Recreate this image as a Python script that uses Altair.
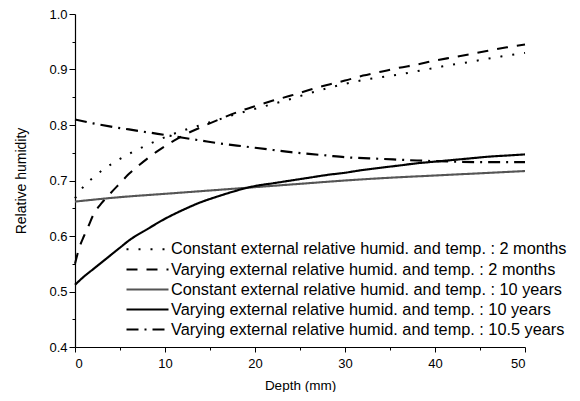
import altair as alt
import pandas as pd

labels = [
    "Constant external relative humid. and temp. : 2 months",
    "Varying external relative humid. and temp. : 2 months",
    "Constant external relative humid. and temp. : 10 years",
    "Varying external relative humid. and temp. : 10 years",
    "Varying external relative humid. and temp. : 10.5 years",
]

c2m_x = [0, 1, 2, 3, 4, 5, 6, 7, 8, 9, 10, 12, 14, 16, 18, 20, 22, 24, 26, 28, 30, 32, 34, 36, 38, 40, 42, 44, 46, 48, 50]
c2m_y = [0.668, 0.69, 0.705, 0.718, 0.729, 0.739, 0.748, 0.756, 0.764, 0.771, 0.778, 0.79, 0.80, 0.81, 0.82, 0.829,
         0.838, 0.847, 0.857, 0.866, 0.874, 0.881, 0.886, 0.891, 0.897, 0.903, 0.909, 0.914, 0.92, 0.925, 0.93]

v2m_x = [0, 0.5, 1, 1.5, 2, 3, 4, 5, 6, 7, 8, 9, 10, 11, 12, 14, 16, 18, 20, 22, 24, 26, 28, 30, 32, 34, 36, 38, 40, 42, 44, 46, 48, 50]
v2m_y = [0.55, 0.58, 0.60, 0.618, 0.637, 0.66, 0.678, 0.695, 0.712, 0.726, 0.739, 0.751, 0.762, 0.772, 0.781, 0.796,
         0.81, 0.823, 0.834, 0.844, 0.853, 0.863, 0.872, 0.88, 0.889, 0.896, 0.903, 0.909, 0.916, 0.922, 0.928, 0.934, 0.94, 0.945]

c10_x = [0, 5, 10, 15, 20, 25, 30, 35, 40, 45, 50]
c10_y = [0.662, 0.670, 0.676, 0.682, 0.688, 0.694, 0.700, 0.705, 0.709, 0.713, 0.717]

v10_x = [0, 1, 2, 3, 4, 5, 6, 8, 10, 12, 14, 16, 18, 20, 22, 24, 26, 28, 30, 32, 34, 36, 38, 40, 42, 44, 46, 48, 50]
v10_y = [0.512, 0.527, 0.540, 0.553, 0.566, 0.579, 0.592, 0.612, 0.631, 0.647, 0.661, 0.672, 0.682, 0.690, 0.695,
         0.700, 0.705, 0.710, 0.714, 0.719, 0.723, 0.727, 0.731, 0.734, 0.737, 0.740, 0.743, 0.745, 0.747]

v105_x = [0, 2, 4, 6, 8, 10, 12, 14, 16, 18, 20, 22, 24, 26, 28, 30, 34, 38, 42, 46, 50]
v105_y = [0.81, 0.803, 0.797, 0.792, 0.787, 0.782, 0.777, 0.772, 0.767, 0.763, 0.759, 0.755, 0.751, 0.748, 0.745,
          0.742, 0.739, 0.736, 0.734, 0.733, 0.733]

rows = []
for lab, xs, ys in zip(labels, [c2m_x, v2m_x, c10_x, v10_x, v105_x], [c2m_y, v2m_y, c10_y, v10_y, v105_y]):
    for x, y in zip(xs, ys):
        rows.append({"series": lab, "depth": x, "rh": y})
df = pd.DataFrame(rows)

x_ticks = [0, 5, 10, 15, 20, 25, 30, 35, 40, 45, 50]
y_ticks = [0.4, 0.45, 0.5, 0.55, 0.6, 0.65, 0.7, 0.75, 0.8, 0.85, 0.9, 0.95, 1.0]

FONT = "Liberation Sans"

chart = alt.Chart(df).mark_line(interpolate="monotone").encode(
    x=alt.X("depth:Q", title="Depth (mm)",
            scale=alt.Scale(domain=[0, 50], nice=False, zero=False),
            axis=alt.Axis(values=x_ticks,
                          labelExpr="datum.value % 10 == 0 ? datum.label : ''",
                          tickSize={"condition": {"test": "datum.value % 10 == 0", "value": 5}, "value": 3},
                          labelPadding=5, titlePadding=8, titleFontSize=13.5)),
    y=alt.Y("rh:Q", title="Relative humidity",
            scale=alt.Scale(domain=[0.4, 1.0], nice=False, zero=False),
            axis=alt.Axis(values=y_ticks, format=".1f",
                          labelExpr="round(datum.value*100) % 10 == 0 ? datum.label : ''",
                          tickSize={"condition": {"test": "round(datum.value*100) % 10 == 0", "value": 6}, "value": 3},
                          labelPadding=2, titlePadding=20, titleFontSize=14)),
    detail="series:N",
    strokeDash=alt.StrokeDash("series:N", sort=labels, title=None,
                              scale=alt.Scale(domain=labels,
                                              range=[[2, 10], [11, 9], [1, 0], [1, 0], [12, 6, 2, 6]])),
    strokeWidth=alt.StrokeWidth("series:N", sort=labels, title=None,
                                scale=alt.Scale(domain=labels, range=[2.0, 2.2, 0.6, 2.6, 1.9])),
    color=alt.Color("series:N", sort=labels, title=None,
                    scale=alt.Scale(domain=labels, range=["#000000", "#000000", "#555555", "#000000", "#000000"])),
).properties(
    width=450, height=333,
    autosize=alt.AutoSizeParams(type="none"),
    padding={"left": 67, "top": 6, "right": 47, "bottom": 45},
).configure_view(stroke=None).configure_axis(
    grid=False, domainColor="black", tickColor="black", labelColor="black", titleColor="black",
    labelFont=FONT, titleFont=FONT, labelFontSize=13, titleFontWeight="normal",
    domainWidth=1.2, tickWidth=1,
).configure_legend(
    orient="none", legendX=64, legendY=227, padding=0,
    symbolType="M-3,0H3", symbolSize=196, labelOffset=15,
    labelFont=FONT, labelFontSize=16.3, labelColor="black", labelLimit=600,
    rowPadding=3,
)

chart.save("out.html", embed_options={"renderer": "svg", "actions": False})
